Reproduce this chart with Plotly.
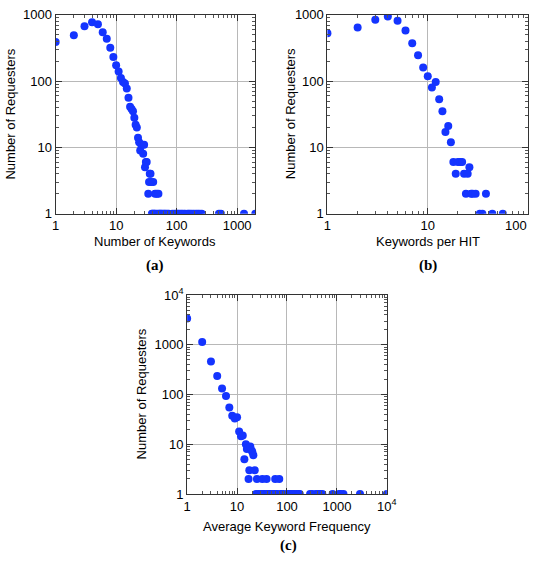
import plotly.graph_objects as go

# ---------------- data ----------------
# (a) Number of Keywords vs Number of Requesters
a_x = [1, 2, 3, 4, 5, 6, 7, 8, 9, 10, 11, 12, 13, 14, 15, 16, 17, 18, 19, 20,
       21, 22, 23, 24, 25, 26, 27, 28, 29, 30, 31, 32, 34, 35, 36, 37, 38, 41,
       44, 47, 50,
       39, 40, 42, 43, 45, 48, 51, 53, 55, 57, 60, 63, 66, 70, 74,
       85, 92, 98, 103, 108, 115, 122, 130, 138,
       152, 160, 170, 182, 195, 210, 225, 240, 260,
       500, 540, 1300, 2000]
a_y = [390, 490, 675, 775, 720, 545, 435, 318, 230, 174, 140, 111, 97, 92, 77, 56, 41, 38, 35, 28,
       22, 20, 14, 12, 9, 11, 11, 8, 11, 5, 6, 6, 2, 3, 4, 4, 3, 3,
       2, 2, 2,
       1, 1, 1, 1, 1, 1, 1, 1, 1, 1, 1, 1, 1, 1, 1,
       1, 1, 1, 1, 1, 1, 1, 1, 1,
       1, 1, 1, 1, 1, 1, 1, 1, 1,
       1, 1, 1, 1]

# (b) Keywords per HIT vs Number of Requesters
b_x = [1, 2, 3, 4, 5, 6, 7, 8, 9, 10, 11, 12, 13, 14, 15, 16, 17, 18, 19, 20,
       21, 22, 23, 24, 25, 26, 27, 28, 30, 33, 35, 38, 44, 56]
b_y = [526, 644, 844, 945, 816, 582, 371, 245, 160, 118, 80, 97, 53, 35, 17, 21, 12, 6, 4, 6,
       6, 6, 4, 2, 4, 5, 2, 2, 2, 1, 1, 2, 1, 1]

# (c) Average Keyword Frequency vs Number of Requesters
c_x = [1, 2, 3, 4, 5, 6, 7, 8, 9, 10, 11, 12, 13, 14, 15, 15.7, 16.6, 17, 17.6, 18.4,
       19.6, 20.3, 21.2, 22.6, 25, 32, 39, 58, 70,
       24, 27, 30, 33, 36, 40, 43, 47, 51, 55, 60, 65, 75, 80, 85,
       100, 110, 120, 130, 140, 155, 170, 180,
       290, 320, 380, 420, 470, 510, 820, 1100, 1200, 1350, 2900, 10000]
c_y = [3400, 1140, 464, 237, 132, 93, 55, 37.5, 33, 35, 18, 14.5, 15, 5, 10, 8, 8.4, 2, 3, 9,
       7.5, 7, 6, 3, 2, 2, 2, 2, 2,
       1, 1, 1, 1, 1, 1, 1, 1, 1, 1, 1, 1, 1, 1, 1,
       1, 1, 1, 1, 1, 1, 1, 1,
       1, 1, 1, 1, 1, 1, 1, 1, 1, 1, 1, 1]

tick_vals_3 = [1, 10, 100, 1000]
tick_text_3 = ["1", "10", "100", "1000"]
tick_vals_2 = [1, 10, 100]
tick_text_2 = ["1", "10", "100"]
tick_vals_4 = [1, 10, 100, 1000, 10000]
tick_text_4 = ["1", "10", "100", "1000", "10<sup>4</sup>"]

x_titles = ["Number of Keywords", "Keywords per HIT", "Average Keyword Frequency"]
y_title = "Number of Requesters"
panel_labels = ["(a)", "(b)", "(c)"]

# ---------------- figure ----------------
W, H = 542, 565
BLUE = "#1434ff"
FONT = "Liberation Sans, Arial, sans-serif"

fig = go.Figure()

def px_x(p):
    return p / W

def px_y(p):
    return 1 - p / H

panels = [
    dict(x=a_x, y=a_y, xd=[53, 258], yd=[6, 211], xr=[0, 3.301], yr=[0, 3],
         xtv=tick_vals_3, xtt=tick_text_3, ytv=tick_vals_3, ytt=tick_text_3),
    dict(x=b_x, y=b_y, xd=[332, 538], yd=[6, 211], xr=[0, 2], yr=[0, 3],
         xtv=tick_vals_2, xtt=tick_text_2[:2] + [""], ytv=tick_vals_3, ytt=tick_text_3),
    dict(x=c_x, y=c_y, xd=[188, 393], yd=[295, 500], xr=[0, 4], yr=[0, 4],
         xtv=tick_vals_4, xtt=tick_text_4, ytv=tick_vals_4, ytt=tick_text_4),
]

layout = {}
for i, p in enumerate(panels):
    n = "" if i == 0 else str(i + 1)
    fig.add_trace(go.Scatter(
        x=p["x"], y=p["y"], mode="markers",
        marker=dict(color=BLUE, size=8, line=dict(width=0)),
        xaxis="x" + n, yaxis="y" + n, showlegend=False, cliponaxis=True,
    ))
    common = dict(
        type="log", showline=True, linecolor="#333333", linewidth=1, mirror="allticks",
        showgrid=True, gridcolor="#b8b8b8", gridwidth=1, zeroline=False,
        ticks="inside", ticklen=6, tickcolor="#333333",
        tickfont=dict(family=FONT, size=13, color="black"),
        minor=dict(ticks="inside", ticklen=3, tickcolor="#555555", dtick="D1", showgrid=False),
    )
    layout["xaxis" + n] = dict(
        common, domain=[px_x(p["xd"][0]), px_x(p["xd"][1])], range=p["xr"],
        tickmode="array", tickvals=p["xtv"], ticktext=p["xtt"],
        anchor="y" + n,
    )
    layout["yaxis" + n] = dict(
        common, domain=[px_y(p["yd"][1]), px_y(p["yd"][0])], range=p["yr"],
        tickmode="array", tickvals=p["ytv"], ticktext=p["ytt"],
        anchor="x" + n,
    )

annotations = []
title_pos = [(155, 240), (435, 240), (290, 534)]
label_pos = [(155, 264), (435, 264), (292, 553)]
ytitle_pos = [(7, 108), (294, 108), (141, 397)]
for i in range(3):
    annotations.append(dict(
        text=x_titles[i], x=px_x(title_pos[i][0]), y=px_y(title_pos[i][1]),
        xref="paper", yref="paper", showarrow=False, xanchor="center", yanchor="middle",
        font=dict(family=FONT, size=13, color="black")))
    annotations.append(dict(
        text="<b>" + panel_labels[i] + "</b>", x=px_x(label_pos[i][0]), y=px_y(label_pos[i][1]),
        xref="paper", yref="paper", showarrow=False, xanchor="center", yanchor="middle",
        font=dict(family="Liberation Serif, Times New Roman, serif", size=15, color="black")))
    annotations.append(dict(
        text=y_title, x=px_x(ytitle_pos[i][0]), y=px_y(ytitle_pos[i][1]),
        xref="paper", yref="paper", showarrow=False, xanchor="center", yanchor="middle",
        textangle=-90, font=dict(family=FONT, size=13, color="black")))

# last x tick label of panel (b), kept inside the figure edge
annotations.append(dict(
    text=tick_text_2[2], x=px_x(539), y=px_y(213), xref="paper", yref="paper",
    showarrow=False, xanchor="right", yanchor="top",
    font=dict(family=FONT, size=13, color="black")))

fig.update_layout(
    **layout,
    annotations=annotations,
    width=W, height=H,
    margin=dict(l=0, r=0, t=0, b=0),
    paper_bgcolor="white", plot_bgcolor="white",
    showlegend=False,
)

fig.write_html(
    "out.html",
    config={"displayModeBar": False},
    post_script="document.body.style.margin='0px';document.body.style.overflow='hidden';",
)
